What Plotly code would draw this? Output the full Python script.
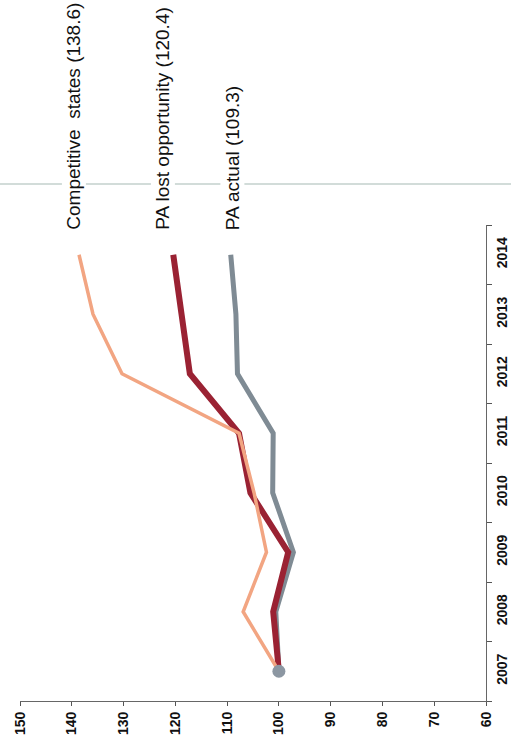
import plotly.graph_objects as go

# Index values by year (2007 = 100)
years = ["2007", "2008", "2009", "2010", "2011", "2012", "2013", "2014"]
pa_actual = [100.0, 100.6, 97.2, 101.2, 101.1, 108.0, 108.3, 109.3]
pa_lost_opportunity = [100.0, 101.1, 98.2, 105.5, 107.7, 117.2, 118.8, 120.4]
competitive_states = [100.0, 106.9, 102.4, 104.8, 107.7, 130.3, 135.9, 138.6]

value_ticks = [150, 140, 130, 120, 110, 100, 90, 80, 70, 60]

series_labels = [
    "Competitive  states (138.6)",
    "PA lost opportunity (120.4)",
    "PA actual (109.3)",
]

GRAY = "#7f8b94"
RED = "#9a2233"
SALMON = "#f2a582"
FONT = "Liberation Sans, Arial, sans-serif"

fig = go.Figure()

fig.add_trace(go.Scatter(
    x=pa_actual, y=years, mode="lines",
    line=dict(color=GRAY, width=5), hoverinfo="skip", showlegend=False,
))
fig.add_trace(go.Scatter(
    x=pa_lost_opportunity, y=years, mode="lines",
    line=dict(color=RED, width=6), hoverinfo="skip", showlegend=False,
))
fig.add_trace(go.Scatter(
    x=competitive_states, y=years, mode="lines",
    line=dict(color=SALMON, width=3.5), hoverinfo="skip", showlegend=False,
))
# Common starting point in 2007
fig.add_trace(go.Scatter(
    x=[pa_actual[0]], y=[years[0]], mode="markers",
    marker=dict(color="#8c97a2", size=13), hoverinfo="skip", showlegend=False,
))

# Thin rule running across the top, behind the series labels
fig.add_shape(
    type="line", xref="paper", yref="paper",
    x0=-0.05, x1=1.06, y0=1.086, y1=1.086,
    line=dict(color="#c3d0cc", width=1.5),
)

label_x = [0.116, 0.307, 0.455]
for txt, lx in zip(series_labels, label_x):
    fig.add_annotation(
        text=txt, xref="paper", yref="paper", x=lx, y=0.985,
        xanchor="center", yanchor="bottom", textangle=-90,
        showarrow=False, bgcolor="white", borderpad=1,
        font=dict(family=FONT, size=19, color="#111111"),
    )

fig.update_xaxes(
    range=[150, 60], tickvals=value_ticks, ticktext=[str(v) for v in value_ticks],
    tickangle=-90, ticks="outside", ticklen=4, tickcolor="#555555",
    showline=True, linecolor="#666666", linewidth=1.2,
    showgrid=False, zeroline=False, automargin=False,
    tickfont=dict(family=FONT, size=14, color="#111111", weight="bold"),
)
fig.update_yaxes(
    type="category", categoryorder="array", categoryarray=years,
    range=[-0.5, 7.5], side="right", tickangle=-90,
    ticks="outside", tickson="boundaries", ticklen=5, tickcolor="#555555",
    ticklabelstandoff=3,
    showline=True, linecolor="#666666", linewidth=1.2,
    showgrid=False, zeroline=False, automargin=False,
    tickfont=dict(family=FONT, size=14, color="#111111", weight="bold"),
)

fig.update_layout(
    width=511, height=753,
    margin=dict(l=20, r=25, t=225, b=52),
    paper_bgcolor="white", plot_bgcolor="white",
)

fig.write_html("out.html")
